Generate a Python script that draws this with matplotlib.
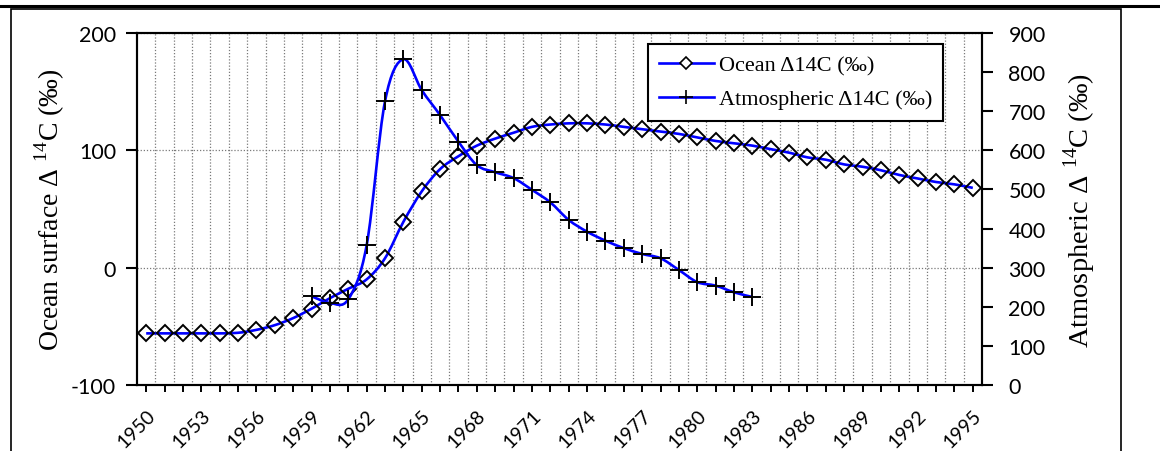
import numpy as np
import matplotlib.pyplot as plt
from matplotlib.path import Path
from matplotlib.patches import PathPatch, Rectangle
from matplotlib.lines import Line2D
from matplotlib.transforms import ScaledTranslation

# ocean surface D14C (left axis), one point per year
years = list(range(1950, 1996))
ocean = [-56, -56, -56, -56, -56, -55.5, -53, -49, -43, -35,
         -26, -18, -10, 8, 39, 65, 84, 95, 104, 110,
         115, 120, 122, 123, 123, 122, 120, 118, 116, 114,
         111, 108, 106, 104, 101, 98, 94, 92, 88, 86,
         83, 79, 76, 73, 71, 68]

# atmospheric D14C (right axis)
atm_years = list(range(1959, 1984))
atm = [227, 210, 219, 357, 725, 833, 754, 690, 622, 562,
       544, 529, 499, 467, 422, 392, 369, 350, 335, 324,
       294, 263, 254, 237, 225]

xlabels = [str(y) if (y - 1950) % 3 == 0 else '' for y in years]

plt.rcParams['font.family'] = ['Lato', 'DejaVu Sans']
plt.rcParams['axes.unicode_minus'] = False
plt.rcParams['mathtext.fontset'] = 'custom'
plt.rcParams['mathtext.rm'] = 'Liberation Serif'
serif = ['Liberation Serif', 'DejaVu Serif']


def smooth(xs, ys):
    # excel-like smoothed line: catmull-rom turned into bezier segments
    pts = np.column_stack([xs, ys]).astype(float)
    p = np.vstack([pts[0], pts, pts[-1]])
    verts = [pts[0]]
    codes = [Path.MOVETO]
    for i in range(1, len(p) - 2):
        c1 = p[i] + (p[i + 1] - p[i - 1]) / 6
        c2 = p[i + 1] - (p[i + 2] - p[i]) / 6
        verts += [c1, c2, p[i + 1]]
        codes += [Path.CURVE4] * 3
    return Path(verts, codes)


fig = plt.figure(figsize=(11.6, 4.52), dpi=100)
ax1 = fig.add_axes([137 / 1160, 1 - 386 / 452, 845 / 1160, 352 / 452])
ax2 = ax1.twinx()

blue = '#0000ff'
ax1.add_patch(PathPatch(smooth(years, ocean), fill=False, edgecolor=blue, lw=1.9, zorder=3))
ax1.plot(years, ocean, ls='none', marker='D', ms=8, mfc='none', mec='black', mew=1.4, zorder=4)
ax2.add_patch(PathPatch(smooth(atm_years, atm), fill=False, edgecolor=blue, lw=1.9, zorder=3))
ax2.plot(atm_years, atm, ls='none', marker='+', ms=13, mec='black', mew=1.4, zorder=4)

ax1.set_xlim(1949.5, 1995.5)
ax1.set_ylim(-100, 200)
ax2.set_ylim(0, 900)
ax1.set_yticks([-100, 0, 100, 200])
ax2.set_yticks(range(0, 901, 100))
ax1.set_xticks(years)
ax1.set_xticklabels(xlabels, rotation=45, ha='right', va='top', rotation_mode='anchor')
ax1.set_xticks([y + 0.5 for y in years[:-1]], minor=True)
shift = ScaledTranslation(4 / 100, 0, fig.dpi_scale_trans)
for lab in ax1.get_xticklabels():
    lab.set_transform(lab.get_transform() + shift)

grid = dict(color='#7a7a7a', lw=0.9, ls=(0, (1, 1.5)))
ax1.grid(axis='y', which='major', **grid)
ax1.grid(axis='x', which='minor', **grid)

ax1.tick_params(axis='y', direction='out', length=8, width=1.5, labelsize=15.5, pad=7)
ax1.tick_params(axis='x', which='major', direction='out', length=5, width=1.4, labelsize=14, pad=10)
ax1.tick_params(axis='x', which='minor', length=0)
ax2.tick_params(axis='y', direction='out', length=8, width=1.5, labelsize=15.5, pad=11)

for ax in (ax1, ax2):
    for s in ax.spines.values():
        s.set_linewidth(1.5)
        s.set_color('black')

ax1.set_ylabel('Ocean surface \u0394 $^{14}$C (\u2030)', family=serif, fontsize=20, labelpad=3)
ax2.set_ylabel('Atmospheric \u0394 $^{14}$C (\u2030)', family=serif, fontsize=20.5, labelpad=11)

h1 = Line2D([], [], color=blue, lw=1.9, marker='D', ms=6, mfc='white', mec='black', mew=1.2)
h2 = Line2D([], [], color=blue, lw=1.9, marker='+', ms=10, mec='black', mew=1.2)
leg = ax2.legend([h1, h2], ['Ocean \u039414C (\u2030)', 'Atmospheric \u039414C (\u2030)'],
                 loc='upper right', bbox_to_anchor=(0.954, 0.969), borderaxespad=0,
                 prop={'family': serif, 'size': 16}, fancybox=False, framealpha=1,
                 edgecolor='black', handlelength=2.5, handletextpad=0.2,
                 borderpad=0.5, labelspacing=0.6)
leg.get_frame().set_linewidth(1.5)

# page frame around the figure
fig.add_artist(Line2D([0, 1], [1 - 7 / 452] * 2, transform=fig.transFigure, color='black', lw=2.2))
fig.add_artist(Rectangle((11 / 1160, -0.05), 1110 / 1160, 1 - 10 / 452 + 0.05,
                         transform=fig.transFigure, fill=False, edgecolor='black', lw=1.2))

fig.savefig('out.png', dpi=100)
